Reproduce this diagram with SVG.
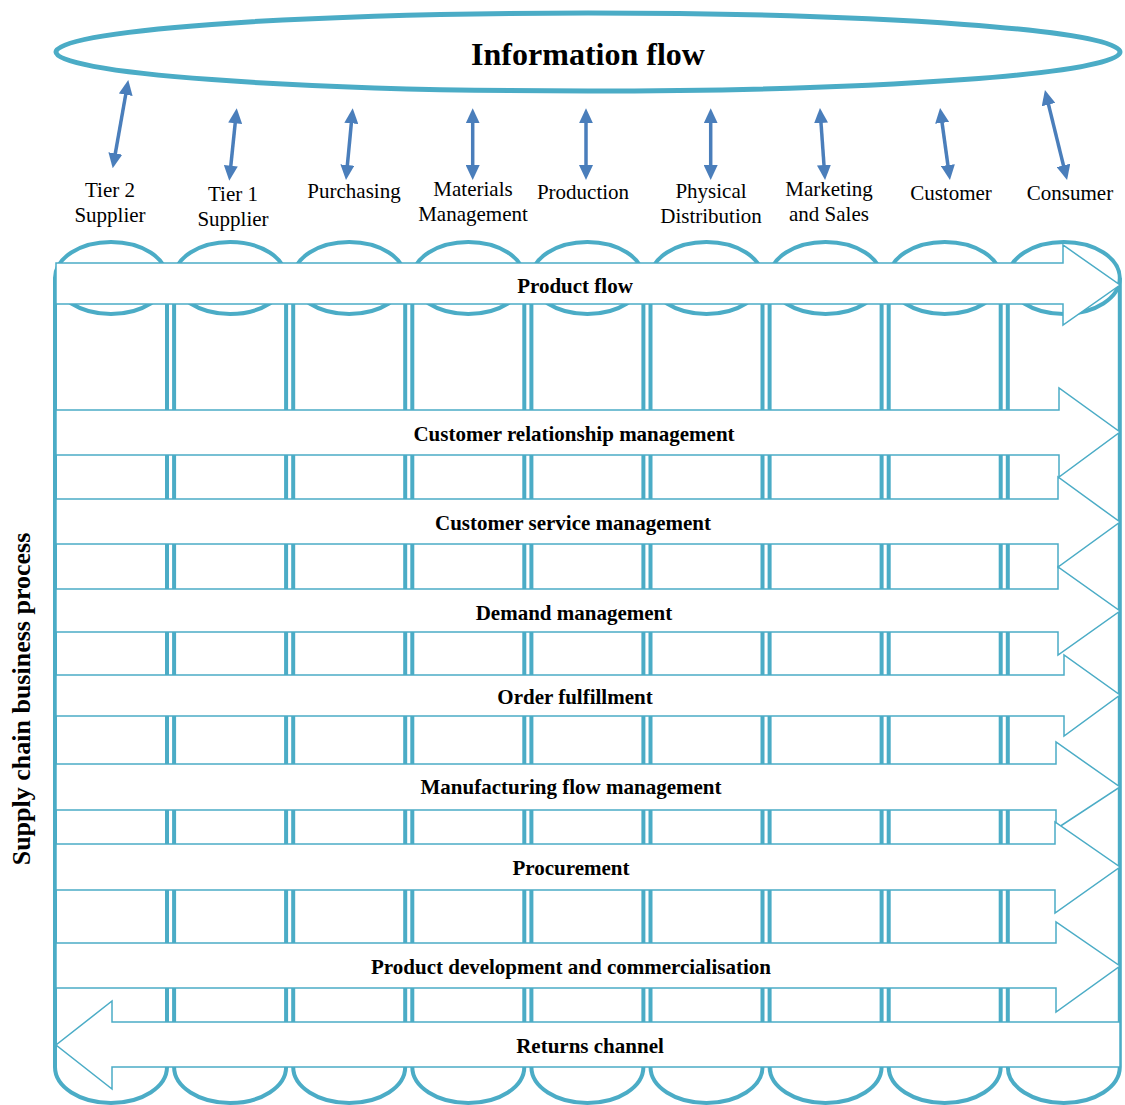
<svg xmlns="http://www.w3.org/2000/svg" width="1125" height="1105" viewBox="0 0 1125 1105">
  <style>
    .cyl { fill: #ffffff; stroke: #4BACC6; stroke-width: 4; }
    .band { fill: #ffffff; stroke: #4BACC6; stroke-width: 1.5; stroke-linejoin: miter; }
    .link { stroke: #4A7EBB; stroke-width: 3.5; fill: none; marker-start: url(#head); marker-end: url(#head); }
    .lbl { font-family: "Liberation Serif", "Times New Roman", serif; font-size: 21px; fill: #000; text-anchor: middle; }
    .blbl { font-family: "Liberation Serif", "Times New Roman", serif; font-size: 21px; font-weight: bold; fill: #000; text-anchor: middle; }
  </style>
  <defs>
    <marker id="head" viewBox="0 0 15 14" refX="3" refY="7" markerWidth="15" markerHeight="14" markerUnits="userSpaceOnUse" orient="auto-start-reverse">
      <path d="M0,0 L15,7 L0,14 z" fill="#4A7EBB"/>
    </marker>
    <!-- one column of the supply chain: sides, rounded base and top ellipse -->
    <g id="column">
      <path class="cyl" d="M-56,278 L-56,1067 A56,36 0 0 0 56,1067 L56,278"/>
      <ellipse class="cyl" cx="0" cy="278" rx="56" ry="36"/>
    </g>
  </defs>

  <rect width="1125" height="1105" fill="#ffffff"/>

  <!-- information flow banner -->
  <g id="information-flow">
    <ellipse cx="588" cy="52" rx="532" ry="39" fill="#ffffff" stroke="#4BACC6" stroke-width="5"/>
    <text x="588" y="65" class="blbl" style="font-size:32px">Information flow</text>
  </g>

  <!-- supply chain members -->
  <g id="tier2-supplier">
    <use href="#column" x="111" y="0"/>
    <text class="lbl" x="110" y="197">Tier 2</text>
    <text class="lbl" x="110" y="222">Supplier</text>
  </g>
  <g id="tier1-supplier">
    <use href="#column" x="230.1" y="0"/>
    <text class="lbl" x="233" y="201">Tier 1</text>
    <text class="lbl" x="233" y="226">Supplier</text>
  </g>
  <g id="purchasing">
    <use href="#column" x="349.2" y="0"/>
    <text class="lbl" x="354" y="198">Purchasing</text>
  </g>
  <g id="materials-management">
    <use href="#column" x="468.3" y="0"/>
    <text class="lbl" x="473" y="196">Materials</text>
    <text class="lbl" x="473" y="221">Management</text>
  </g>
  <g id="production">
    <use href="#column" x="587.4" y="0"/>
    <text class="lbl" x="583" y="199">Production</text>
  </g>
  <g id="physical-distribution">
    <use href="#column" x="706.5" y="0"/>
    <text class="lbl" x="711" y="198">Physical</text>
    <text class="lbl" x="711" y="223">Distribution</text>
  </g>
  <g id="marketing-sales">
    <use href="#column" x="825.6" y="0"/>
    <text class="lbl" x="829" y="196">Marketing</text>
    <text class="lbl" x="829" y="221">and Sales</text>
  </g>
  <g id="customer">
    <use href="#column" x="944.7" y="0"/>
    <text class="lbl" x="951" y="200">Customer</text>
  </g>
  <g id="consumer">
    <use href="#column" x="1063.8" y="0"/>
    <text class="lbl" x="1070" y="200">Consumer</text>
  </g>

  <!-- two-way links between each member and the information flow -->
  <g id="connectors">
    <line class="link" x1="126.2" y1="91.8" x2="114.8" y2="156.4"/>
    <line class="link" x1="235.5" y1="120.3" x2="230.5" y2="168.7"/>
    <line class="link" x1="351.6" y1="120.3" x2="347.1" y2="168.0"/>
    <line class="link" x1="472.7" y1="120.3" x2="472.7" y2="168.0"/>
    <line class="link" x1="586" y1="120.3" x2="586" y2="168.0"/>
    <line class="link" x1="710.7" y1="120.3" x2="710.7" y2="168.0"/>
    <line class="link" x1="820.8" y1="120.0" x2="824.2" y2="168.0"/>
    <line class="link" x1="941.7" y1="119.9" x2="948.3" y2="168.1"/>
    <line class="link" x1="1047.8" y1="101.7" x2="1064.2" y2="168.3"/>
  </g>

  <!-- business process bands across the chain -->
  <g id="product-flow">
    <polygon class="band" points="56,263 1063,263 1063,245 1120,285 1063,325 1063,304 56,304"/>
    <text class="blbl" x="575" y="293">Product flow</text>
  </g>
  <g id="customer-relationship-management">
    <polygon class="band" points="56,410 1059,410 1059,388 1120,432 1059,477 1059,455 56,455"/>
    <text class="blbl" x="574" y="441">Customer relationship management</text>
  </g>
  <g id="customer-service-management">
    <polygon class="band" points="56,499 1058,499 1058,477 1120,522 1058,567 1058,544 56,544"/>
    <text class="blbl" x="573" y="530">Customer service management</text>
  </g>
  <g id="demand-management">
    <polygon class="band" points="56,589 1058,589 1058,567 1120,611 1058,655 1058,632 56,632"/>
    <text class="blbl" x="574" y="620">Demand management</text>
  </g>
  <g id="order-fulfillment">
    <polygon class="band" points="56,675 1064,675 1064,655 1120,695 1064,736 1064,716 56,716"/>
    <text class="blbl" x="575" y="704">Order fulfillment</text>
  </g>
  <g id="manufacturing-flow-management">
    <polygon class="band" points="56,764 1056,764 1056,742 1120,787 1056,829 1056,810 56,810"/>
    <text class="blbl" x="571" y="794">Manufacturing flow management</text>
  </g>
  <g id="procurement">
    <polygon class="band" points="56,844 1055,844 1055,822 1120,867 1055,913 1055,890 56,890"/>
    <text class="blbl" x="571" y="875">Procurement</text>
  </g>
  <g id="product-development">
    <polygon class="band" points="56,943 1056,943 1056,922 1120,966 1056,1012 1056,988 56,988"/>
    <text class="blbl" x="571" y="974">Product development and commercialisation</text>
  </g>
  <g id="returns-channel">
    <polygon class="band" points="1120,1022 112,1022 112,1001 56,1045 112,1089 112,1067 1120,1067"/>
    <text class="blbl" x="590" y="1053">Returns channel</text>
  </g>

  <!-- side caption -->
  <g id="process-caption">
    <text class="blbl" transform="translate(30,699) rotate(-90)" style="font-size:26px">Supply chain business process</text>
  </g>
</svg>
